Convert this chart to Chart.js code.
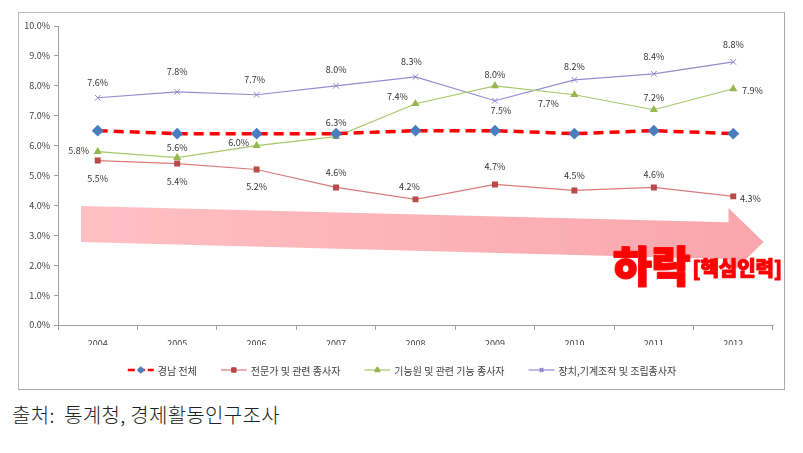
<!DOCTYPE html>
<html>
<head>
<meta charset="utf-8">
<script src="https://cdn.jsdelivr.net/npm/chart.js@4.4.0/dist/chart.umd.min.js"></script>
<style>
body { margin: 0; background: #fff; width: 803px; height: 453px; position: relative; overflow: hidden; }
#frame { position: absolute; left: 18px; top: 12px; width: 765px; height: 376px; border: 1px solid #b8b8b8; border-right-color: #a8a8a8; border-bottom-color: #a8a8a8; }
#src { position: absolute; left: 12px; top: 400px; font: 300 20px "Noto Sans CJK KR"; color: #222; white-space: pre; letter-spacing: 0.3px; }
</style>
</head>
<body>
<div id="frame"><canvas id="c" width="765" height="376"></canvas></div>
<div id="src">출처:  통계청, 경제활동인구조사</div>
<script>
const YEARS = ['2004', '2005', '2006', '2007', '2008', '2009', '2010', '2011', '2012'];

const GYEONGNAM    = [6.5, 6.4, 6.4, 6.4, 6.5, 6.5, 6.4, 6.5, 6.4];
const PROFESSIONAL = [5.5, 5.4, 5.2, 4.6, 4.2, 4.7, 4.5, 4.6, 4.3];
const CRAFT        = [5.8, 5.6, 6.0, 6.3, 7.4, 8.0, 7.7, 7.2, 7.9];
const OPERATOR     = [7.6, 7.8, 7.7, 8.0, 8.3, 7.5, 8.2, 8.4, 8.8];

const Y_MAX = 10;
const Y_STEP = 1;

// label offsets (px) from each point
const PROF_OFF = [[0,18],[0,18],[0,17],[0,-15],[-6,-13],[0,-18],[0,-15],[0,-13],[17,2]];
const CRAFT_OFF = [[-19,-1],[0,-10],[-18,-3],[0,-14],[-18,-7],[0,-11],[-26,9],[0,-12],[19,2]];
const OPER_OFF = [[0,-15],[0,-20],[-2,-15],[0,-16],[-4,-15],[6,10],[0,-13],[0,-17],[0,-17]];

const FONT = '"Noto Sans CJK KR", "Noto Sans", sans-serif';

const decor = {
    id: 'decor',
    beforeDatasetsDraw(chart) {
        const { ctx, scales: { x, y } } = chart;
        // big pink trend arrow (in data space)
        const pts = [[-0.21, 3.98], [7.94, 3.44], [7.94, 3.91], [8.38, 2.78], [7.94, 1.62], [7.94, 2.21], [-0.21, 2.78]];
        ctx.save();
        const g = ctx.createLinearGradient(x.getPixelForValue(-0.21), 0, x.getPixelForValue(8.38), 0);
        g.addColorStop(0, '#ffc0c4');
        g.addColorStop(1, '#f9a6ac');
        ctx.fillStyle = g;
        ctx.beginPath();
        pts.forEach(([i, v], k) => {
            const px = x.getPixelForValue(i), py = y.getPixelForValue(v);
            k ? ctx.lineTo(px, py) : ctx.moveTo(px, py);
        });
        ctx.closePath();
        ctx.fill();
        ctx.restore();
    },
    afterDatasetsDraw(chart) {
        const { ctx, chartArea } = chart;
        ctx.save();
        // point labels
        ctx.font = '9px ' + FONT;
        ctx.fillStyle = '#333';
        ctx.textAlign = 'center';
        ctx.textBaseline = 'middle';
        chart.data.datasets.forEach((ds, di) => {
            if (!ds.labelOffsets) return;
            chart.getDatasetMeta(di).data.forEach((el, i) => {
                const [dx, dy] = ds.labelOffsets[i];
                ctx.fillText(ds.data[i].toFixed(1) + '%', el.x + dx, el.y + dy);
            });
        });

        // 하락 [핵심인력]
        ctx.textBaseline = 'alphabetic';
        ctx.textAlign = 'right';
        ctx.lineJoin = 'round';
        const rx = chartArea.right + 9;
        ctx.font = '900 20px ' + FONT;
        ctx.strokeStyle = '#ff1010';
        ctx.fillStyle = '#ff0000';
        ctx.lineWidth = 1.2;
        ctx.strokeText('[핵심인력]', rx, chartArea.bottom - 49);
        ctx.fillText('[핵심인력]', rx, chartArea.bottom - 49);
        const w = ctx.measureText('[핵심인력]').width;
        ctx.font = '900 42px ' + FONT;
        ctx.lineWidth = 2;
        ctx.strokeText('하락', rx - w - 2, chartArea.bottom - 43);
        ctx.fillText('하락', rx - w - 2, chartArea.bottom - 43);

        // legend
        ctx.font = '10px ' + FONT;
        ctx.textAlign = 'left';
        ctx.textBaseline = 'middle';
        const lineW = 26, gapT = 4, gapItem = 24;
        const items = chart.data.datasets.map(ds => ({ ds, tw: ctx.measureText(ds.label).width }));
        const total = items.reduce((s, it) => s + lineW + gapT + it.tw, 0) + gapItem * (items.length - 1);
        let lx = 383 - total / 2;
        const ly = 357;
        items.forEach(({ ds, tw }) => {
            ctx.save();
            ctx.strokeStyle = ds.borderColor;
            ctx.lineWidth = Math.min(ds.borderWidth, 2.5);
            ctx.setLineDash(ds.borderDash ? [7, 3] : []);
            ctx.beginPath();
            ctx.moveTo(lx, ly);
            ctx.lineTo(lx + lineW, ly);
            ctx.stroke();
            ctx.restore();
            ctx.fillStyle = ds.pointBackgroundColor;
            ctx.strokeStyle = ds.pointBorderColor;
            Chart.helpers.drawPoint(ctx, { pointStyle: ds.pointStyle, radius: 2.5, rotation: 0, borderWidth: 1 }, lx + lineW / 2, ly);
            ctx.fillStyle = '#404040';
            ctx.fillText(ds.label, lx + lineW + gapT, ly + 1);
            lx += lineW + gapT + tw + gapItem;
        });
        ctx.restore();
    }
};

new Chart(document.getElementById('c'), {
    type: 'line',
    data: {
        labels: YEARS,
        datasets: [
            {
                label: '경남 전체', data: GYEONGNAM,
                borderColor: '#ff0000', borderWidth: 3.5, borderDash: [10, 6],
                pointStyle: 'rectRot', pointRadius: 3.5,
                pointBackgroundColor: '#4a7ebf', pointBorderColor: '#4a7ebf',
            },
            {
                label: '전문가 및 관련 종사자', data: PROFESSIONAL, labelOffsets: PROF_OFF,
                borderColor: '#d97b7b', borderWidth: 1.2,
                pointStyle: 'rect', pointRadius: 3.3,
                pointBackgroundColor: '#bf4a4a', pointBorderColor: '#b54444',
            },
            {
                label: '기능원 및 관련 기능 종사자', data: CRAFT, labelOffsets: CRAFT_OFF,
                borderColor: '#a9c86a', borderWidth: 1.2,
                pointStyle: 'triangle', pointRadius: 3.5,
                pointBackgroundColor: '#95b850', pointBorderColor: '#95b850',
            },
            {
                label: '장치,기계조작 및 조립종사자', data: OPERATOR, labelOffsets: OPER_OFF,
                borderColor: '#968bd0', borderWidth: 1.2,
                pointStyle: 'crossRot', pointRadius: 4, pointBorderWidth: 1,
                pointBackgroundColor: '#8f86cc', pointBorderColor: '#8f86cc',
            },
        ]
    },
    options: {
        responsive: false,
        animation: false,
        events: [],
        layout: { padding: { left: 0, right: 11, top: 13, bottom: 44 } },
        scales: {
            x: {
                offset: true,
                grid: { offset: true, drawOnChartArea: false, tickLength: 5, color: '#a0a0a0' },
                border: { color: '#a0a0a0' },
                ticks: { font: { size: 9, family: FONT }, color: '#404040', padding: 8, maxRotation: 0 },
                afterFit(scale) { scale.height = 20; }
            },
            y: {
                min: 0, max: Y_MAX,
                grid: { drawOnChartArea: false, tickLength: 4, color: '#a0a0a0' },
                border: { color: '#a0a0a0' },
                ticks: { stepSize: Y_STEP, font: { size: 9, family: FONT }, color: '#404040', padding: 4,
                    callback: v => v.toFixed(1) + '%' },
                afterFit(scale) { scale.width = 39; }
            }
        },
        plugins: { legend: { display: false }, tooltip: { enabled: false } }
    },
    plugins: [decor]
});
</script>
</body>
</html>
